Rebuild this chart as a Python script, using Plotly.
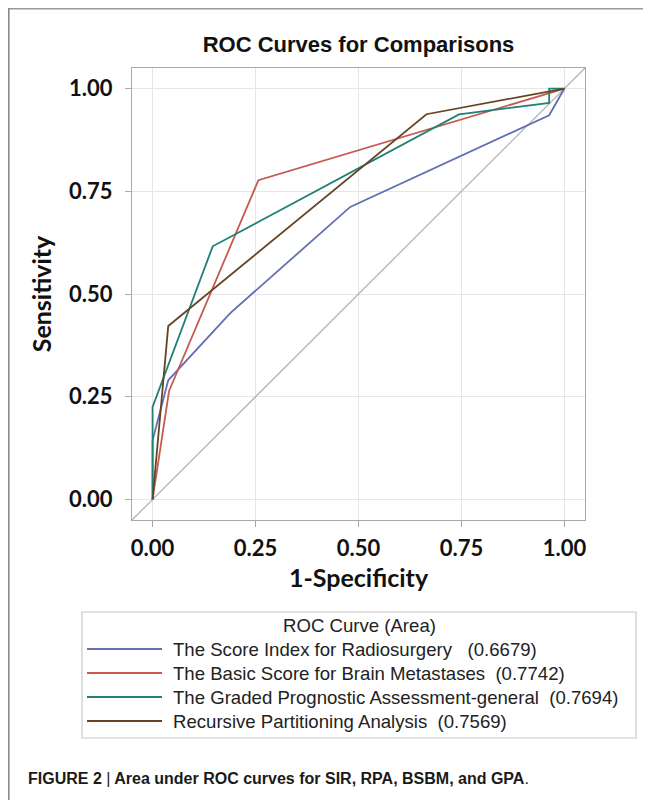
import plotly.graph_objects as go

# ---- data ----
series_names = [
    "The Score Index for Radiosurgery",
    "The Basic Score for Brain Metastases",
    "The Graded Prognostic Assessment-general",
    "Recursive Partitioning Analysis",
]
series_auc = ["0.6679", "0.7742", "0.7694", "0.7569"]
series_sep = ["   ", "  ", "  ", "  "]

sir_x = [0.0, 0.0, 0.038, 0.188, 0.480, 0.963, 1.0]
sir_y = [0.0, 0.144, 0.290, 0.453, 0.712, 0.935, 1.0]

bsbm_x = [0.0, 0.040, 0.257, 0.963, 1.0]
bsbm_y = [0.0, 0.264, 0.777, 0.989, 1.0]

gpa_x = [0.0, 0.0, 0.146, 0.744, 0.963, 0.963, 1.0]
gpa_y = [0.0, 0.225, 0.616, 0.937, 0.965, 1.0, 1.0]

rpa_x = [0.0, 0.038, 0.665, 1.0]
rpa_y = [0.0, 0.422, 0.9375, 1.0]

ref_x = [-0.05, 1.05]
ref_y = [-0.05, 1.05]

tick_vals = [0.0, 0.25, 0.5, 0.75, 1.0]
tick_text = ["0.00", "0.25", "0.50", "0.75", "1.00"]

colors = ["#6170B3", "#C65A50", "#1F8174", "#664526"]

# ---- layout geometry ----
# The page body has an 8px margin, so the figure is 643x792 and every
# position below is given in page pixels and shifted by OFF.
OFF = 8
W, H = 651 - OFF, 800 - OFF
PL, PR, PT, PB = 132 - OFF, 585 - OFF, 68 - OFF, 520 - OFF


def px(xp):
    return (xp - OFF - PL) / (PR - PL)


def py(yp):
    return (PB - (yp - OFF)) / (PB - PT)


fig = go.Figure()

fig.add_trace(go.Scatter(x=ref_x, y=ref_y, mode="lines",
                         line=dict(color="#B4B4B4", width=1.3),
                         hoverinfo="skip", showlegend=False))

data = [(sir_x, sir_y), (bsbm_x, bsbm_y), (gpa_x, gpa_y), (rpa_x, rpa_y)]
for (xs, ys), name, c in zip(data, series_names, colors):
    fig.add_trace(go.Scatter(x=xs, y=ys, mode="lines", name=name,
                             line=dict(color=c, width=1.8),
                             showlegend=False))

shapes = []
annotations = []

# figure border (top and left)
shapes.append(dict(type="line", xref="paper", yref="paper",
                   x0=px(8), x1=px(660), y0=py(8.8), y1=py(8.8),
                   line=dict(color="#9A9A9A", width=1.6)))
shapes.append(dict(type="line", xref="paper", yref="paper",
                   x0=px(8.8), x1=px(8.8), y0=py(8), y1=py(810),
                   line=dict(color="#8A8A8A", width=1.6)))

# legend box
LB_L, LB_R, LB_T, LB_B = 82, 636, 612, 738
LEG_FONT = dict(family="Liberation Sans, Arial, sans-serif", size=18.6, color="#222222")
shapes.append(dict(type="rect", xref="paper", yref="paper",
                   x0=px(LB_L), x1=px(LB_R), y0=py(LB_T), y1=py(LB_B),
                   line=dict(color="#C8C8C8", width=1.2), fillcolor="rgba(0,0,0,0)"))
annotations.append(dict(text="ROC Curve (Area)", xref="paper", yref="paper",
                        x=px((LB_L + LB_R) / 2), y=py(625), xanchor="center", yanchor="middle",
                        showarrow=False, font=LEG_FONT))
row_y = [649, 673, 697, 721]
for name, auc, sep, c, ry in zip(series_names, series_auc, series_sep, colors, row_y):
    shapes.append(dict(type="line", xref="paper", yref="paper",
                       x0=px(87), x1=px(162), y0=py(ry), y1=py(ry),
                       line=dict(color=c, width=1.8)))
    annotations.append(dict(text=name + sep + "(" + auc + ")", xref="paper", yref="paper",
                            x=px(171), y=py(ry), xanchor="left", yanchor="middle",
                            showarrow=False, font=LEG_FONT))

# caption
annotations.append(dict(text="<b>FIGURE 2 </b>|<b> Area under ROC curves for SIR, RPA, BSBM, and GPA</b>.",
                        xref="paper", yref="paper", x=px(26), y=py(778),
                        xanchor="left", yanchor="middle", showarrow=False,
                        font=dict(family="Liberation Sans Narrow, Liberation Sans, Arial, sans-serif",
                                  size=16, color="#1A1A1A")))

TICK_FONT = dict(family="Lato, Open Sans, sans-serif", size=22, color="#111111", weight="bold")
AXT_FONT = dict(family="Lato, Open Sans, sans-serif", size=25, color="#111111")
axis_common = dict(
    range=[-0.05, 1.05], tickvals=tick_vals, ticktext=tick_text,
    showgrid=True, gridcolor="#E6E6E6", gridwidth=1,
    showline=True, linecolor="#A8A8A8", linewidth=1.3, mirror=True,
    ticks="outside", ticklen=6, tickcolor="#A8A8A8",
    zeroline=False, tickfont=TICK_FONT,
)

fig.update_layout(
    width=W, height=H,
    margin=dict(l=PL, r=W - PR, t=PT, b=H - PB),
    paper_bgcolor="white", plot_bgcolor="white",
    title=dict(text="<b>ROC Curves for Comparisons</b>", xref="paper", x=0.5, xanchor="center",
               yref="container", y=1 - (44 - OFF) / H, yanchor="middle",
               font=dict(family="Liberation Sans, Arial, sans-serif", size=22, color="#111111")),
    xaxis=dict(axis_common, ticklabelstandoff=2,
               title=dict(text="<b>1-Specificity</b>", standoff=9, font=AXT_FONT)),
    yaxis=dict(axis_common, ticklabelstandoff=8,
               title=dict(text="<b>Sensitivity</b>", standoff=10, font=AXT_FONT)),
    shapes=shapes, annotations=annotations, showlegend=False,
)

fig.write_html("out.html")
